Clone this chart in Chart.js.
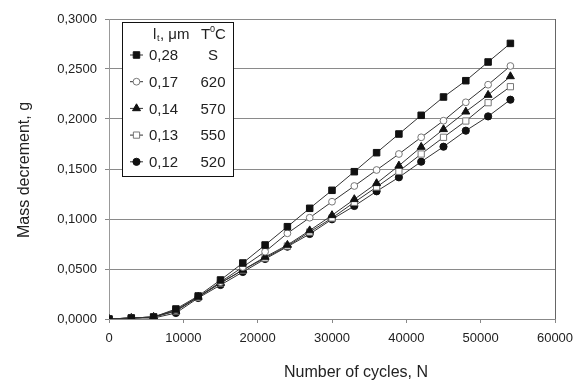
<!DOCTYPE html>
<html>
<head>
<meta charset="utf-8">
<script src="https://cdn.jsdelivr.net/npm/chart.js@4"></script>
<style>
  html, body { margin: 0; padding: 0; background: #fff; }
  #wrap { width: 582px; height: 382px; }
</style>
</head>
<body>
<div id="wrap"><canvas id="c"></canvas></div>
<script>
const cycles = [0, 3000, 6000, 9000, 12000, 15000, 18000, 21000, 24000, 27000,
  30000, 33000, 36000, 39000, 42000, 45000, 48000, 51000, 54000];

const mass028 = [0, 0.001, 0.002, 0.010, 0.023, 0.039, 0.056, 0.074, 0.0923, 0.1107,
  0.1287, 0.1473, 0.1663, 0.1850, 0.2037, 0.2220, 0.2383, 0.2570, 0.2756];
const mass017 = [0, 0.001, 0.002, 0.009, 0.022, 0.037, 0.052, 0.0673, 0.0857, 0.1013,
  0.1173, 0.1330, 0.1490, 0.1650, 0.1817, 0.1983, 0.2167, 0.2343, 0.2530];
const mass014 = [0, 0.001, 0.002, 0.008, 0.022, 0.036, 0.049, 0.062, 0.074, 0.0885,
  0.1037, 0.1197, 0.1357, 0.1533, 0.1720, 0.1897, 0.2073, 0.2240, 0.2426];
const mass013 = [0, 0.001, 0.002, 0.008, 0.022, 0.036, 0.049, 0.061, 0.073, 0.087,
  0.1010, 0.1167, 0.1320, 0.1477, 0.1650, 0.1817, 0.1980, 0.2163, 0.2323];
const mass012 = [0, 0.001, 0.001, 0.006, 0.021, 0.034, 0.047, 0.060, 0.0723, 0.085,
  0.0997, 0.1130, 0.1277, 0.1417, 0.1573, 0.1723, 0.1883, 0.2026, 0.2193];

const thickness = ['0,28', '0,17', '0,14', '0,13', '0,12'];
const temperature = ['S', '620', '570', '550', '520'];

const xTicks = [0, 10000, 20000, 30000, 40000, 50000, 60000];
const yTicks = [0, 0.05, 0.10, 0.15, 0.20, 0.25, 0.30];

const FONT = '"Liberation Sans", Arial, sans-serif';

const styles = [
  { pointStyle: 'rect', pointRadius: 4.6, fill: '#111', stroke: '#111' },
  { pointStyle: 'circle', pointRadius: 3.4, fill: '#fff', stroke: '#777' },
  { pointStyle: 'triangle', pointRadius: 4.6, fill: '#111', stroke: '#111' },
  { pointStyle: 'rect', pointRadius: 4.4, fill: '#fff', stroke: '#777' },
  { pointStyle: 'circle', pointRadius: 3.6, fill: '#111', stroke: '#111' }
];

const series = [mass028, mass017, mass014, mass013, mass012];

const datasets = series.map((vals, i) => ({
  label: thickness[i],
  data: cycles.map((x, j) => ({ x: x, y: vals[j] })),
  borderColor: '#333',
  borderWidth: 1,
  pointStyle: styles[i].pointStyle,
  pointRadius: styles[i].pointRadius,
  pointBackgroundColor: styles[i].fill,
  pointBorderColor: styles[i].stroke,
  pointBorderWidth: 1,
  tension: 0
}));

// titles and the boxed legend, drawn on the canvas
const extras = {
  id: 'extras',
  afterDraw(chart) {
    const ctx = chart.ctx;
    ctx.save();
    ctx.fillStyle = '#222';
    ctx.font = '16px ' + FONT;
    ctx.textAlign = 'center';
    ctx.textBaseline = 'middle';
    ctx.fillText('Number of cycles, N', 356, 373);
    ctx.save();
    ctx.translate(25, 170);
    ctx.rotate(-Math.PI / 2);
    ctx.fillText('Mass decrement, g', 0, 0);
    ctx.restore();

    // legend box
    const bx = 122.5, by = 22.5, bw = 111, bh = 154;
    ctx.fillStyle = '#fff';
    ctx.fillRect(bx, by, bw, bh);
    ctx.strokeStyle = '#111';
    ctx.lineWidth = 1;
    ctx.strokeRect(bx, by, bw, bh);

    ctx.fillStyle = '#222';
    ctx.font = '15px ' + FONT;
    ctx.textAlign = 'left';
    ctx.fillText('l', 153, 35);
    ctx.font = '9px ' + FONT;
    ctx.fillText('t', 157, 39);
    ctx.font = '15px ' + FONT;
    ctx.fillText(', \u03bcm', 160, 35);
    // T0C header
    ctx.fillText('T', 201, 35);
    ctx.font = '9px ' + FONT;
    ctx.fillText('0', 210, 30);
    ctx.font = '15px ' + FONT;
    ctx.fillText('C', 215, 35);

    for (let i = 0; i < thickness.length; i++) {
      const y = 55 + i * 26.7;
      ctx.strokeStyle = '#333';
      ctx.beginPath();
      ctx.moveTo(130, y);
      ctx.lineTo(143, y);
      ctx.stroke();
      ctx.fillStyle = styles[i].fill;
      ctx.strokeStyle = styles[i].stroke;
      Chart.helpers.drawPoint(ctx, {
        pointStyle: styles[i].pointStyle,
        radius: styles[i].pointRadius,
        rotation: 0,
        borderWidth: 1
      }, 136.5, y);
      ctx.fillStyle = '#222';
      ctx.font = '15px ' + FONT;
      ctx.textAlign = 'left';
      ctx.fillText(thickness[i], 149, y + 1);
      ctx.textAlign = 'center';
      ctx.fillText(temperature[i], 213, y + 1);
    }
    ctx.restore();
  }
};

new Chart(document.getElementById('c'), {
  type: 'line',
  data: { datasets: datasets },
  options: {
    responsive: true,
    maintainAspectRatio: false,
    animation: false,
    layout: { padding: { left: 0, right: 27, top: 19, bottom: 0 } },
    plugins: {
      legend: { display: false },
      tooltip: { enabled: false }
    },
    scales: {
      x: {
        type: 'linear',
        min: 0,
        max: 60000,
        afterFit: (s) => { s.height = 63; },
        afterBuildTicks: (s) => { s.ticks = xTicks.map(v => ({ value: v })); },
        ticks: {
          color: '#222',
          font: { family: FONT, size: 13 },
          padding: 8,
          maxRotation: 0,
          callback: (v) => String(v)
        },
        grid: {
          color: (c) => (c.tick && c.tick.value === 60000 ? '#666' : 'rgba(0,0,0,0)'),
          tickColor: '#888',
          tickLength: 4
        },
        border: { color: '#888' }
      },
      y: {
        min: 0,
        max: 0.3,
        afterFit: (s) => { s.width = 109; },
        afterBuildTicks: (s) => { s.ticks = yTicks.map(v => ({ value: v })); },
        ticks: {
          color: '#222',
          font: { family: FONT, size: 13 },
          padding: 8,
          callback: (v) => v.toFixed(4).replace('.', ',')
        },
        grid: {
          color: '#8a8a8a',
          tickColor: '#888',
          tickLength: 4
        },
        border: { color: '#999' }
      }
    }
  },
  plugins: [extras]
});
</script>
</body>
</html>
